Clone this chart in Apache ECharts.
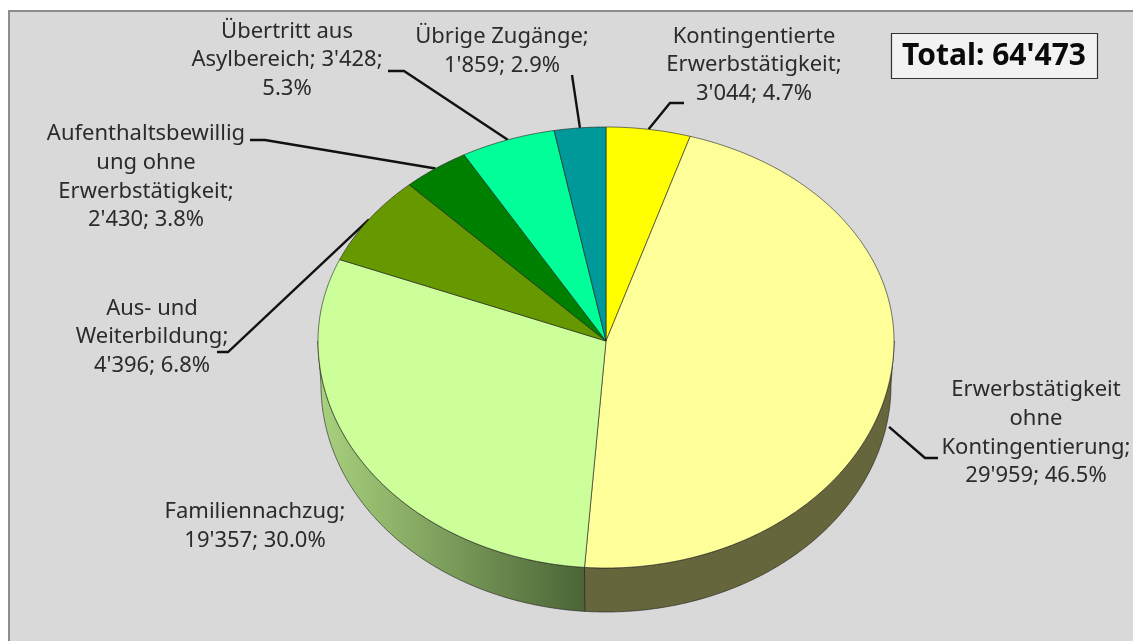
<!DOCTYPE html>
<html>
<head>
<meta charset="utf-8">
<title>Zugänge</title>
<style>
    html, body { margin: 0; padding: 0; background: #fff; }
    #chart { width: 1133px; height: 641px; }
</style>
<script src="https://cdn.jsdelivr.net/npm/echarts@6/dist/echarts.min.js"></script>
</head>
<body>
<div id="chart"></div>
<script>
// Daten, im Uhrzeigersinn ab 12 Uhr
const categories = [
    "Kontingentierte Erwerbstätigkeit",
    "Erwerbstätigkeit ohne Kontingentierung",
    "Familiennachzug",
    "Aus- und Weiterbildung",
    "Aufenthaltsbewilligung ohne Erwerbstätigkeit",
    "Übertritt aus Asylbereich",
    "Übrige Zugänge"
];
const values = [3044, 29959, 19357, 4396, 2430, 3428, 1859];
const labelTexts = [
    "Kontingentierte\nErwerbstätigkeit;\n3'044; 4.7%",
    "Erwerbstätigkeit\nohne\nKontingentierung;\n29'959; 46.5%",
    "Familiennachzug;\n19'357; 30.0%",
    "Aus- und\nWeiterbildung;\n4'396; 6.8%",
    "Aufenthaltsbewillig\nung ohne\nErwerbstätigkeit;\n2'430; 3.8%",
    "Übertritt aus\nAsylbereich; 3'428;\n5.3%",
    "Übrige Zugänge;\n1'859; 2.9%"
];
const totalText = "Total: 64'473";
const sliceColors = ["#ffff00", "#ffff99", "#ccff99", "#669900", "#008000", "#00ff99", "#009999"];

// Geometrie der gekippten Torte
const pie = { cx: 606, cy: 341, rx: 288, ryTop: 214, ryBottom: 227, depth: 44, rxLow: 285 };
// Beschriftung: Mitte des Textblocks
const labelCenters = [[754, 65], [1036, 433], [255, 526], [152, 337], [146, 177], [287, 60], [502, 51]];
// Knickpunkte der Führungslinien (null = keine Linie)
const leaderElbows = [
    [[670, 103], [684, 103]],
    [[925, 458], [938, 458]],
    null,
    [[228, 352], [217, 352]],
    [[265, 140], [250, 140]],
    [[404, 71], [388, 71]],
    [[572, 75]]
];

const total = values.reduce((a, b) => a + b, 0);
const angles = [];
let sum = 0;
values.forEach(v => {
    angles.push([sum / total * 2 * Math.PI, (sum + v) / total * 2 * Math.PI]);
    sum += v;
});

function rimPoint(a) {
    const c = Math.cos(a);
    return [pie.cx + pie.rx * Math.sin(a), pie.cy - (c > 0 ? pie.ryTop : pie.ryBottom) * c];
}
function lowPoint(a) {
    return [pie.cx + pie.rxLow * Math.sin(a), pie.cy + pie.depth - pie.ryBottom * Math.cos(a)];
}
function arc(fn, a0, a1) {
    const n = Math.max(2, Math.ceil((a1 - a0) / 0.01));
    const pts = [];
    for (let i = 0; i <= n; i++) pts.push(fn(a0 + (a1 - a0) * i / n));
    return pts;
}

const edge = { stroke: "rgba(30,30,30,0.75)", lineWidth: 0.8 };

// Seitenwand: nur der untere Halbkreis ist sichtbar
function renderSide(params) {
    const i = params.dataIndex;
    const a0 = Math.max(angles[i][0], Math.PI / 2);
    const a1 = Math.min(angles[i][1], Math.PI * 1.5);
    if (a1 <= a0) return null;
    const pts = arc(rimPoint, a0, a1).concat(arc(lowPoint, a0, a1).reverse());
    const fill = i === 1 ? "#66663c" : new echarts.graphic.LinearGradient(0, 0, 1, 0, [
        { offset: 0, color: "#a9d27e" },
        { offset: 1, color: "#4b6436" }
    ]);
    return { type: "polygon", shape: { points: pts }, style: Object.assign({ fill: fill }, edge) };
}

function renderTop(params) {
    const i = params.dataIndex;
    const pts = [[pie.cx, pie.cy]].concat(arc(rimPoint, angles[i][0], angles[i][1]));
    return { type: "polygon", shape: { points: pts }, style: Object.assign({ fill: sliceColors[i] }, edge) };
}

function renderLeader(params) {
    const i = params.dataIndex;
    if (!leaderElbows[i]) return null;
    const mid = (angles[i][0] + angles[i][1]) / 2;
    // rechts unten setzt die Linie an der Unterkante der Seitenwand an
    const start = Math.cos(mid) < 0 ? [rimPoint(mid)[0], rimPoint(mid)[1] + pie.depth] : rimPoint(mid);
    return {
        type: "polyline",
        shape: { points: [start].concat(leaderElbows[i]) },
        style: { stroke: "#111", lineWidth: 2.4, fill: null }
    };
}

const labelGraphics = labelTexts.map((t, i) => ({
    type: "text",
    x: labelCenters[i][0],
    y: labelCenters[i][1],
    z: 1,
    style: {
        text: t,
        fill: "#2b2b2b",
        font: '22px "Noto Sans"',
        lineHeight: 28.7,
        align: "center",
        verticalAlign: "middle"
    }
}));

const chart = echarts.init(document.getElementById("chart"));
chart.setOption({
    animation: false,
    backgroundColor: "#ffffff",
    graphic: [
        {
            type: "rect", z: -1,
            shape: { x: 9, y: 11, width: 1140, height: 650 },
            style: { fill: "#d9d9d9", stroke: "#8c8c8c", lineWidth: 2 }
        },
        {
            type: "rect", z: 1,
            shape: { x: 891.5, y: 33.5, width: 206, height: 45 },
            style: { fill: "#f2f2f2", stroke: "#333", lineWidth: 1.2 }
        },
        {
            type: "text", z: 2, x: 994, y: 56,
            style: {
                text: totalText, fill: "#0a0a0a",
                font: 'bold 30px "Noto Sans"',
                align: "center", verticalAlign: "middle"
            }
        }
    ].concat(labelGraphics),
    series: [
        { type: "custom", name: "Seite", z: 2, coordinateSystem: "none", silent: true, data: values, renderItem: renderSide },
        { type: "custom", name: "Leader", z: 3, coordinateSystem: "none", silent: true, data: values, renderItem: renderLeader },
        { type: "custom", name: "Zugänge", z: 4, coordinateSystem: "none", silent: true,
          data: values.map((v, i) => ({ name: categories[i], value: v })), renderItem: renderTop }
    ]
});
</script>
</body>
</html>
